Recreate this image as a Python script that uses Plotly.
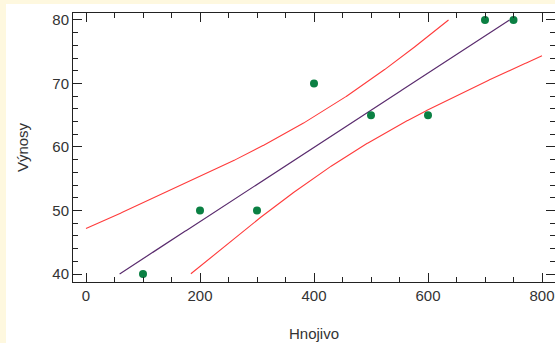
import numpy as np
import plotly.graph_objects as go

# Observed data: fertilizer dose vs. yield
hnojivo = [100, 200, 300, 400, 500, 600, 700, 750]
vynosy = [40, 50, 50, 70, 65, 65, 80, 80]

x_ticks = [0, 200, 400, 600, 800]
y_ticks = [40, 50, 60, 70, 80]

T_CRIT = 2.447  # Student t, 0.975 quantile, 6 degrees of freedom

x = np.array(hnojivo, dtype=float)
y = np.array(vynosy, dtype=float)
n = len(x)
slope, intercept = np.polyfit(x, y, 1)
resid = y - (intercept + slope * x)
s = np.sqrt(np.sum(resid ** 2) / (n - 2))
sxx = np.sum((x - x.mean()) ** 2)

grid = np.linspace(0, 800, 1601)
fit = intercept + slope * grid
half = T_CRIT * s * np.sqrt(1.0 / n + (grid - x.mean()) ** 2 / sxx)
upper = fit + half
lower = fit - half


def clip(v, lo=40.0, hi=80.0):
    v = v.astype(object)
    mask = (v.astype(float) < lo) | (v.astype(float) > hi)
    v[mask] = None
    return list(v)


FONT = "Liberation Sans Narrow, Arial Narrow, Liberation Sans, sans-serif"

fig = go.Figure()
fig.add_trace(go.Scatter(x=grid, y=clip(upper), mode="lines",
                         line=dict(color="#FF3B3B", width=1.1), hoverinfo="skip"))
fig.add_trace(go.Scatter(x=grid, y=clip(lower), mode="lines",
                         line=dict(color="#FF3B3B", width=1.1), hoverinfo="skip"))
fig.add_trace(go.Scatter(x=grid, y=clip(fit), mode="lines",
                         line=dict(color="#5A2C6E", width=1.2), hoverinfo="skip"))
fig.add_trace(go.Scatter(x=hnojivo, y=vynosy, mode="markers",
                         marker=dict(color="#0B8043", size=8)))

L, R, T, B = 73, 0, 13, 61
W, H = 555, 343
pw, ph = W - L - R, H - T - B

# white panel over the beige page
fig.add_shape(type="rect", xref="paper", yref="paper", layer="below",
              x0=(6 - L) / pw, x1=(W + 5 - L) / pw,
              y0=(H - B - H - 5) / ph, y1=(H - B - 4) / ph,
              fillcolor="white", line=dict(width=0))

axis_common = dict(
    showline=True, linecolor="#222", linewidth=1, mirror="ticks",
    ticks="inside", ticklen=9, tickwidth=1, tickcolor="#222",
    showgrid=False, zeroline=False, ticklabeloverflow="allow",
    tickfont=dict(family=FONT, size=15, color="#333"),
)

fig.update_xaxes(
    range=[-22.8, 822.8], tickvals=x_ticks,
    title=dict(text="Hnojivo", font=dict(family=FONT, size=15, color="#333"), standoff=25),
    minor=dict(dtick=50, tick0=0, ticks="inside", ticklen=5, tickcolor="#222", tickwidth=1),
    **axis_common,
)
fig.update_yaxes(
    range=[38.74, 81.1], tickvals=y_ticks,
    title=dict(text="Výnosy", font=dict(family=FONT, size=15, color="#333"), standoff=20),
    minor=dict(dtick=2, tick0=40, ticks="inside", ticklen=5, tickcolor="#222", tickwidth=1),
    **axis_common,
)

fig.update_layout(
    width=W, height=H,
    margin=dict(l=L, r=R, t=T, b=B, pad=0),
    paper_bgcolor="#FEF8DF", plot_bgcolor="white",
    showlegend=False,
)

fig.write_html("out.html")
